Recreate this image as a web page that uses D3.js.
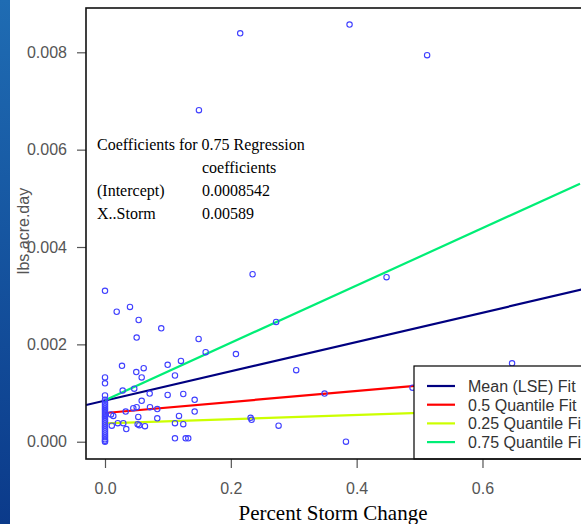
<!DOCTYPE html>
<html>
<head>
<meta charset="utf-8">
<script src="https://cdn.jsdelivr.net/npm/d3@7"></script>
<style>
  html, body { margin: 0; padding: 0; background: #fff; overflow: hidden; }
  svg { display: block; }
</style>
</head>
<body>
<svg id="chart" width="581" height="524"></svg>
<script>
// Observations: percent storm change vs. loading (lbs/acre/day)
const stormChange = [
  0.3887, 0.512, 0.2149, 0.1493, 0.4475, 0.2346,
  0, 0.0186, 0.0397, 0.0535, 0.0894, 0.0503,
  0.1488, 0.16, 0.2081, 0.272, 0.3039, 0.647,
  0.027, 0.0497, 0.0615, 0.0583, 0.0996, 0.1207, 0.1112,
  0.0281, 0.0465, 0.071, 0.0996, 0.1244, 0.1425, 0.1425,
  0.0583, 0.045, 0.0503, 0.0715, 0.0831, 0.0329,
  0.0095, 0.0132, 0.0529, 0.1176, 0.0831, 0.0519,
  0.0108, 0.0203, 0.0291, 0.0338, 0.0545, 0.0635,
  0.1112, 0.1244, 0.2314, 0.233, 0.2759,
  0.1112, 0.1282, 0.1323, 0.349, 0.4888, 0.383,
  0, 0, 0, 0, 0, 0, 0, 0, 0, 0, 0, 0, 0,
  0, 0, 0, 0, 0, 0, 0, 0, 0, 0, 0, 0, 0
];
const loading = [
  0.00857, 0.00794, 0.00839, 0.00681, 0.00338, 0.00344,
  0.0031, 0.00267, 0.00277, 0.0025, 0.00233, 0.00214,
  0.00211, 0.00184, 0.0018, 0.00246, 0.00147, 0.00161,
  0.00156, 0.00143, 0.00151, 0.00132, 0.00158, 0.00166, 0.00136,
  0.00105, 0.00109, 0.00099, 0.00096, 0.00098, 0.00086, 0.00062,
  0.00084, 0.00069, 0.00071, 0.00071, 0.00067, 0.00062,
  0.00056, 0.00053, 0.00051, 0.00053, 0.00048, 0.00036,
  0.00033, 0.00038, 0.00038, 0.00026, 0.00034, 0.00032,
  0.00038, 0.00036, 0.00049, 0.00045, 0.00033,
  0.00007, 0.00007, 0.00007, 0.00099, 0.00111, 0.0,
  0.00132, 0.0012, 0.00095, 0.00086, 0.00081, 0.00077, 0.00073, 0.00069, 0.00065, 0.00061, 0.00057, 0.00053, 0.00049,
  0.00045, 0.00041, 0.00037, 0.00033, 0.00029, 0.00025, 0.00021, 0.00017, 0.00013, 0.00009, 0.00005, 0.00002, 0.0
];

// Fitted lines: intercept + slope * x
const fitNames = ["Mean (LSE) Fit", "0.5 Quantile Fit", "0.25 Quantile Fit", "0.75 Quantile Fit"];
const fitIntercepts = [0.000845, 0.00059, 0.000378, 0.0008542];
const fitSlopes = [0.00301, 0.00113, 0.00043, 0.00589];
const fitColors = ["#000080", "#ff0000", "#ccff00", "#00ee76"];
// x extent covered by the quantile fits
const fitRange = [0, 0.755];

const xTicks = [0, 0.2, 0.4, 0.6];
const yTicks = [0, 0.002, 0.004, 0.006, 0.008];

const coefTitle = "Coefficients for 0.75 Regression";
const coefHeader = "coefficients";
const coefNames = ["(Intercept)", "X..Storm"];
const coefValues = ["0.0008542", "0.00589"];

const svg = d3.select("#chart");

// left decorative strip
const defs = svg.append("defs");
const grad = defs.append("linearGradient").attr("id", "strip")
  .attr("x1", 0).attr("y1", 0).attr("x2", 0).attr("y2", 1);
grad.append("stop").attr("offset", "0%").attr("stop-color", "#1f6cb3");
grad.append("stop").attr("offset", "100%").attr("stop-color", "#0b3a8a");
svg.append("rect").attr("x", 0).attr("y", 0).attr("width", 10).attr("height", 524)
  .attr("fill", "url(#strip)");

const box = { left: 86, top: 8, right: 599, bottom: 459 };
const x = d3.scaleLinear().domain([-0.0302, 0.7852]).range([box.left, box.right]);
const y = d3.scaleLinear().domain([-0.000355, 0.00891]).range([box.bottom, box.top]);

defs.append("clipPath").attr("id", "plotClip")
  .append("rect").attr("x", box.left).attr("y", box.top)
  .attr("width", box.right - box.left).attr("height", box.bottom - box.top);

const sans = "'Liberation Sans', Arial, sans-serif";
const serif = "'Liberation Serif', 'Times New Roman', serif";

// axes
const yAxis = svg.append("g").attr("transform", `translate(${box.left},0)`)
  .call(d3.axisLeft(y).tickValues(yTicks).tickFormat(d3.format(".3f")).tickSize(9).tickPadding(10));
const xAxis = svg.append("g").attr("transform", `translate(0,${box.bottom})`)
  .call(d3.axisBottom(x).tickValues(xTicks).tickFormat(d3.format(".1f")).tickSize(9).tickPadding(10));
[xAxis, yAxis].forEach(g => {
  g.select(".domain").remove();
  g.selectAll(".tick line").attr("stroke", "#555").attr("stroke-width", 1.2);
  g.selectAll(".tick text").attr("fill", "#555").style("font-family", sans).style("font-size", "16px");
});
yAxis.selectAll(".tick text").attr("x", -19);
xAxis.selectAll(".tick text").attr("dy", "0.71em").attr("y", 24);

// data region
const plot = svg.append("g").attr("clip-path", "url(#plotClip)");

// regression lines: mean fit spans the whole region, quantile fits span the data
fitNames.forEach((name, i) => {
  const x0 = i === 0 ? x.domain()[0] : fitRange[0];
  const x1 = i === 0 ? x.domain()[1] : fitRange[1];
  plot.append("line")
    .attr("x1", x(x0)).attr("y1", y(fitIntercepts[i] + fitSlopes[i] * x0))
    .attr("x2", x(x1)).attr("y2", y(fitIntercepts[i] + fitSlopes[i] * x1))
    .attr("stroke", fitColors[i]).attr("stroke-width", 2.2);
});

// points
plot.selectAll("circle.obs").data(stormChange).join("circle")
  .attr("class", "obs")
  .attr("cx", d => x(d))
  .attr("cy", (d, i) => y(loading[i]))
  .attr("r", 2.7)
  .attr("fill", "none")
  .attr("stroke", "#3f3fff")
  .attr("stroke-width", 1.1);

// coefficient table
const tbl = svg.append("g").style("font-family", serif).style("font-size", "16px").attr("fill", "#000");
tbl.append("text").attr("x", 97).attr("y", 150).text(coefTitle);
tbl.append("text").attr("x", 202).attr("y", 173).text(coefHeader);
coefNames.forEach((n, i) => {
  tbl.append("text").attr("x", 97).attr("y", 196 + i * 23.3).text(n);
  tbl.append("text").attr("x", 202).attr("y", 196 + i * 23.3).text(coefValues[i]);
});

// legend
const lg = svg.append("g");
lg.append("rect").attr("x", 414).attr("y", 366).attr("width", 240).attr("height", box.bottom - 366)
  .attr("fill", "#fff").attr("stroke", "#000").attr("stroke-width", 1.2);
fitNames.forEach((name, i) => {
  const cy = 386 + i * 18.7;
  lg.append("line").attr("x1", 427).attr("x2", 455).attr("y1", cy).attr("y2", cy)
    .attr("stroke", fitColors[i]).attr("stroke-width", 2.2);
  lg.append("text").attr("x", 468).attr("y", cy + 6)
    .style("font-family", sans).style("font-size", "16px").attr("fill", "#333").text(name);
});

// plot frame
svg.append("rect").attr("x", box.left).attr("y", box.top)
  .attr("width", box.right - box.left).attr("height", box.bottom - box.top)
  .attr("fill", "none").attr("stroke", "#111").attr("stroke-width", 1.6);

// axis titles
svg.append("text").attr("x", 333).attr("y", 520).attr("text-anchor", "middle")
  .style("font-family", serif).style("font-size", "21px").attr("fill", "#000")
  .text("Percent Storm Change");
svg.append("text").attr("transform", "translate(29,231) rotate(-90)").attr("text-anchor", "middle")
  .style("font-family", sans).style("font-size", "16px").attr("fill", "#555")
  .text("lbs.acre.day");
</script>
</body>
</html>
